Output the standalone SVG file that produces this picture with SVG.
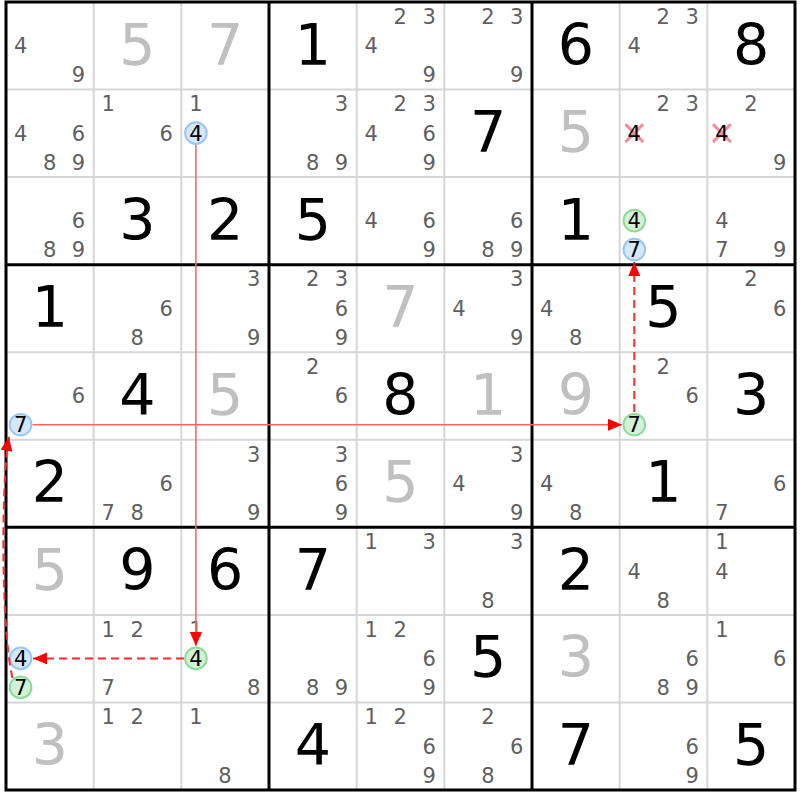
<svg xmlns="http://www.w3.org/2000/svg" width="800" height="800" viewBox="0 0 800 800">
<style>
text{font-family:"DejaVu Sans","Liberation Sans",sans-serif;text-anchor:middle}
.c{font-size:21px;fill:#5f5f5f}
.h{font-size:21px;fill:#000}
.g{font-size:57px;fill:#000}
.s{font-size:57px;fill:#c0c0c0}
.thin{stroke:#d6d6d6;stroke-width:2}
.thick{stroke:#000;stroke-width:3}
.cb{fill:#d5e7fa;stroke:#9ac6f2;stroke-width:2}
.cg{fill:#d3f1d7;stroke:#8cdb97;stroke-width:2}
.x{stroke:#f28e99;stroke-width:3;stroke-linecap:round}
.sol{fill:none;stroke:#ff6363;stroke-width:1.6}
.dash{fill:none;stroke:#ff2b2b;stroke-width:2;stroke-dasharray:8 5}
</style>
<defs>
<marker id="ah" viewBox="0 0 14 12" refX="14" refY="6" markerWidth="14" markerHeight="12" markerUnits="userSpaceOnUse" orient="auto">
<path d="M0,0 L14,6 L0,12 z" fill="#ff0000"/>
</marker>
</defs>
<rect x="0" y="0" width="800" height="800" fill="#fff"/>
<g id="grid">
<line class="thin" x1="93.67" y1="2" x2="93.67" y2="790"/>
<line class="thin" x1="181.33" y1="2" x2="181.33" y2="790"/>
<line class="thin" x1="356.67" y1="2" x2="356.67" y2="790"/>
<line class="thin" x1="444.33" y1="2" x2="444.33" y2="790"/>
<line class="thin" x1="619.67" y1="2" x2="619.67" y2="790"/>
<line class="thin" x1="707.33" y1="2" x2="707.33" y2="790"/>
<line class="thin" x1="6" y1="89.56" x2="795" y2="89.56"/>
<line class="thin" x1="6" y1="177.11" x2="795" y2="177.11"/>
<line class="thin" x1="6" y1="352.22" x2="795" y2="352.22"/>
<line class="thin" x1="6" y1="439.78" x2="795" y2="439.78"/>
<line class="thin" x1="6" y1="614.89" x2="795" y2="614.89"/>
<line class="thin" x1="6" y1="702.44" x2="795" y2="702.44"/>
<line class="thick" x1="269" y1="2" x2="269" y2="790"/>
<line class="thick" x1="532" y1="2" x2="532" y2="790"/>
<line class="thick" x1="6" y1="264.67" x2="795" y2="264.67"/>
<line class="thick" x1="6" y1="527.33" x2="795" y2="527.33"/>
<rect x="6" y="2" width="789" height="788" fill="none" stroke="#000" stroke-width="3"/>
</g>
<g id="marks">
<circle class="cb" cx="195.9" cy="133.1" r="10.8"/>
<circle class="cg" cx="634.3" cy="220.6" r="10.8"/>
<circle class="cb" cx="634.3" cy="249.6" r="10.8"/>
<circle class="cb" cx="20.6" cy="424.7" r="10.8"/>
<circle class="cg" cx="634.3" cy="424.7" r="10.8"/>
<circle class="cb" cx="20.6" cy="658.4" r="10.8"/>
<circle class="cg" cx="20.6" cy="687.4" r="10.8"/>
<circle class="cg" cx="195.9" cy="658.4" r="10.8"/>
<path class="x" d="M626.3,125.1 L642.3,141.1 M642.3,125.1 L626.3,141.1"/>
<path class="x" d="M713.9,125.1 L729.9,141.1 M729.9,125.1 L713.9,141.1"/>
</g>
<g id="r0">
<g id="r0c0"><text class="c" x="20.6" y="53.2">4</text><text class="c" x="78.4" y="82.2">9</text></g>
<g id="r0c1"><text class="s" x="137.5" y="64.5">5</text></g>
<g id="r0c2"><text class="s" x="225.1" y="64.5">7</text></g>
<g id="r0c3"><text class="g" x="312.8" y="64.5">1</text></g>
<g id="r0c4"><text class="c" x="400.3" y="23.7">2</text><text class="c" x="429.1" y="23.7">3</text><text class="c" x="371.3" y="53.2">4</text><text class="c" x="429.1" y="82.2">9</text></g>
<g id="r0c5"><text class="c" x="487.9" y="23.7">2</text><text class="c" x="516.7" y="23.7">3</text><text class="c" x="516.7" y="82.2">9</text></g>
<g id="r0c6"><text class="g" x="575.8" y="64.5">6</text></g>
<g id="r0c7"><text class="c" x="663.3" y="23.7">2</text><text class="c" x="692.1" y="23.7">3</text><text class="c" x="634.3" y="53.2">4</text></g>
<g id="r0c8"><text class="g" x="751.1" y="64.5">8</text></g>
</g>
<g id="r1">
<g id="r1c0"><text class="c" x="20.6" y="140.8">4</text><text class="c" x="78.4" y="140.8">6</text><text class="c" x="49.6" y="169.8">8</text><text class="c" x="78.4" y="169.8">9</text></g>
<g id="r1c1"><text class="c" x="108.3" y="111.3">1</text><text class="c" x="166.1" y="140.8">6</text></g>
<g id="r1c2"><text class="c" x="195.9" y="111.3">1</text><text class="h" x="195.9" y="140.8">4</text></g>
<g id="r1c3"><text class="c" x="341.4" y="111.3">3</text><text class="c" x="312.6" y="169.8">8</text><text class="c" x="341.4" y="169.8">9</text></g>
<g id="r1c4"><text class="c" x="400.3" y="111.3">2</text><text class="c" x="429.1" y="111.3">3</text><text class="c" x="371.3" y="140.8">4</text><text class="c" x="429.1" y="140.8">6</text><text class="c" x="429.1" y="169.8">9</text></g>
<g id="r1c5"><text class="g" x="488.1" y="152.1">7</text></g>
<g id="r1c6"><text class="s" x="575.8" y="152.1">5</text></g>
<g id="r1c7"><text class="c" x="663.3" y="111.3">2</text><text class="c" x="692.1" y="111.3">3</text><text class="h" x="634.3" y="140.8">4</text></g>
<g id="r1c8"><text class="c" x="750.9" y="111.3">2</text><text class="h" x="721.9" y="140.8">4</text><text class="c" x="779.7" y="169.8">9</text></g>
</g>
<g id="r2">
<g id="r2c0"><text class="c" x="78.4" y="228.3">6</text><text class="c" x="49.6" y="257.3">8</text><text class="c" x="78.4" y="257.3">9</text></g>
<g id="r2c1"><text class="g" x="137.5" y="239.6">3</text></g>
<g id="r2c2"><text class="g" x="225.1" y="239.6">2</text></g>
<g id="r2c3"><text class="g" x="312.8" y="239.6">5</text></g>
<g id="r2c4"><text class="c" x="371.3" y="228.3">4</text><text class="c" x="429.1" y="228.3">6</text><text class="c" x="429.1" y="257.3">9</text></g>
<g id="r2c5"><text class="c" x="516.7" y="228.3">6</text><text class="c" x="487.9" y="257.3">8</text><text class="c" x="516.7" y="257.3">9</text></g>
<g id="r2c6"><text class="g" x="575.8" y="239.6">1</text></g>
<g id="r2c7"><text class="h" x="634.3" y="228.3">4</text><text class="h" x="634.3" y="257.3">7</text></g>
<g id="r2c8"><text class="c" x="721.9" y="228.3">4</text><text class="c" x="721.9" y="257.3">7</text><text class="c" x="779.7" y="257.3">9</text></g>
</g>
<g id="r3">
<g id="r3c0"><text class="g" x="49.8" y="327.2">1</text></g>
<g id="r3c1"><text class="c" x="166.1" y="315.9">6</text><text class="c" x="137.3" y="344.9">8</text></g>
<g id="r3c2"><text class="c" x="253.7" y="286.4">3</text><text class="c" x="253.7" y="344.9">9</text></g>
<g id="r3c3"><text class="c" x="312.6" y="286.4">2</text><text class="c" x="341.4" y="286.4">3</text><text class="c" x="341.4" y="315.9">6</text><text class="c" x="341.4" y="344.9">9</text></g>
<g id="r3c4"><text class="s" x="400.5" y="327.2">7</text></g>
<g id="r3c5"><text class="c" x="516.7" y="286.4">3</text><text class="c" x="458.9" y="315.9">4</text><text class="c" x="516.7" y="344.9">9</text></g>
<g id="r3c6"><text class="c" x="546.6" y="315.9">4</text><text class="c" x="575.6" y="344.9">8</text></g>
<g id="r3c7"><text class="g" x="663.5" y="327.2">5</text></g>
<g id="r3c8"><text class="c" x="750.9" y="286.4">2</text><text class="c" x="779.7" y="315.9">6</text></g>
</g>
<g id="r4">
<g id="r4c0"><text class="c" x="78.4" y="403.4">6</text><text class="h" x="20.6" y="432.4">7</text></g>
<g id="r4c1"><text class="g" x="137.5" y="414.7">4</text></g>
<g id="r4c2"><text class="s" x="225.1" y="414.7">5</text></g>
<g id="r4c3"><text class="c" x="312.6" y="373.9">2</text><text class="c" x="341.4" y="403.4">6</text></g>
<g id="r4c4"><text class="g" x="400.5" y="414.7">8</text></g>
<g id="r4c5"><text class="s" x="488.1" y="414.7">1</text></g>
<g id="r4c6"><text class="s" x="575.8" y="414.7">9</text></g>
<g id="r4c7"><text class="c" x="663.3" y="373.9">2</text><text class="c" x="692.1" y="403.4">6</text><text class="h" x="634.3" y="432.4">7</text></g>
<g id="r4c8"><text class="g" x="751.1" y="414.7">3</text></g>
</g>
<g id="r5">
<g id="r5c0"><text class="g" x="49.8" y="502.3">2</text></g>
<g id="r5c1"><text class="c" x="166.1" y="491">6</text><text class="c" x="108.3" y="520">7</text><text class="c" x="137.3" y="520">8</text></g>
<g id="r5c2"><text class="c" x="253.7" y="461.5">3</text><text class="c" x="253.7" y="520">9</text></g>
<g id="r5c3"><text class="c" x="341.4" y="461.5">3</text><text class="c" x="341.4" y="491">6</text><text class="c" x="341.4" y="520">9</text></g>
<g id="r5c4"><text class="s" x="400.5" y="502.3">5</text></g>
<g id="r5c5"><text class="c" x="516.7" y="461.5">3</text><text class="c" x="458.9" y="491">4</text><text class="c" x="516.7" y="520">9</text></g>
<g id="r5c6"><text class="c" x="546.6" y="491">4</text><text class="c" x="575.6" y="520">8</text></g>
<g id="r5c7"><text class="g" x="663.5" y="502.3">1</text></g>
<g id="r5c8"><text class="c" x="779.7" y="491">6</text><text class="c" x="721.9" y="520">7</text></g>
</g>
<g id="r6">
<g id="r6c0"><text class="s" x="49.8" y="589.8">5</text></g>
<g id="r6c1"><text class="g" x="137.5" y="589.8">9</text></g>
<g id="r6c2"><text class="g" x="225.1" y="589.8">6</text></g>
<g id="r6c3"><text class="g" x="312.8" y="589.8">7</text></g>
<g id="r6c4"><text class="c" x="371.3" y="549">1</text><text class="c" x="429.1" y="549">3</text></g>
<g id="r6c5"><text class="c" x="516.7" y="549">3</text><text class="c" x="487.9" y="607.5">8</text></g>
<g id="r6c6"><text class="g" x="575.8" y="589.8">2</text></g>
<g id="r6c7"><text class="c" x="634.3" y="578.5">4</text><text class="c" x="663.3" y="607.5">8</text></g>
<g id="r6c8"><text class="c" x="721.9" y="549">1</text><text class="c" x="721.9" y="578.5">4</text></g>
</g>
<g id="r7">
<g id="r7c0"><text class="h" x="20.6" y="666.1">4</text><text class="h" x="20.6" y="695.1">7</text></g>
<g id="r7c1"><text class="c" x="108.3" y="636.6">1</text><text class="c" x="137.3" y="636.6">2</text><text class="c" x="108.3" y="695.1">7</text></g>
<g id="r7c2"><text class="c" x="195.9" y="636.6">1</text><text class="h" x="195.9" y="666.1">4</text><text class="c" x="253.7" y="695.1">8</text></g>
<g id="r7c3"><text class="c" x="312.6" y="695.1">8</text><text class="c" x="341.4" y="695.1">9</text></g>
<g id="r7c4"><text class="c" x="371.3" y="636.6">1</text><text class="c" x="400.3" y="636.6">2</text><text class="c" x="429.1" y="666.1">6</text><text class="c" x="429.1" y="695.1">9</text></g>
<g id="r7c5"><text class="g" x="488.1" y="677.4">5</text></g>
<g id="r7c6"><text class="s" x="575.8" y="677.4">3</text></g>
<g id="r7c7"><text class="c" x="692.1" y="666.1">6</text><text class="c" x="663.3" y="695.1">8</text><text class="c" x="692.1" y="695.1">9</text></g>
<g id="r7c8"><text class="c" x="721.9" y="636.6">1</text><text class="c" x="779.7" y="666.1">6</text></g>
</g>
<g id="r8">
<g id="r8c0"><text class="s" x="49.8" y="764.9">3</text></g>
<g id="r8c1"><text class="c" x="108.3" y="724.1">1</text><text class="c" x="137.3" y="724.1">2</text></g>
<g id="r8c2"><text class="c" x="195.9" y="724.1">1</text><text class="c" x="224.9" y="782.6">8</text></g>
<g id="r8c3"><text class="g" x="312.8" y="764.9">4</text></g>
<g id="r8c4"><text class="c" x="371.3" y="724.1">1</text><text class="c" x="400.3" y="724.1">2</text><text class="c" x="429.1" y="753.6">6</text><text class="c" x="429.1" y="782.6">9</text></g>
<g id="r8c5"><text class="c" x="487.9" y="724.1">2</text><text class="c" x="516.7" y="753.6">6</text><text class="c" x="487.9" y="782.6">8</text></g>
<g id="r8c6"><text class="g" x="575.8" y="764.9">7</text></g>
<g id="r8c7"><text class="c" x="692.1" y="753.6">6</text><text class="c" x="692.1" y="782.6">9</text></g>
<g id="r8c8"><text class="g" x="751.1" y="764.9">5</text></g>
</g>
<g id="connectors">
<path class="sol" d="M195.9,145 L195.9,646" marker-end="url(#ah)"/>
<path class="dash" d="M184,658.4 L33,658.4" marker-end="url(#ah)"/>
<path class="dash" d="M12.5,678 C1,630 1,480 9,437" marker-end="url(#ah)"/>
<path class="sol" d="M32.5,424.7 L622,424.7" marker-end="url(#ah)"/>
<path class="dash" d="M634.3,412 L634.3,262" marker-end="url(#ah)"/>
</g>
</svg>
